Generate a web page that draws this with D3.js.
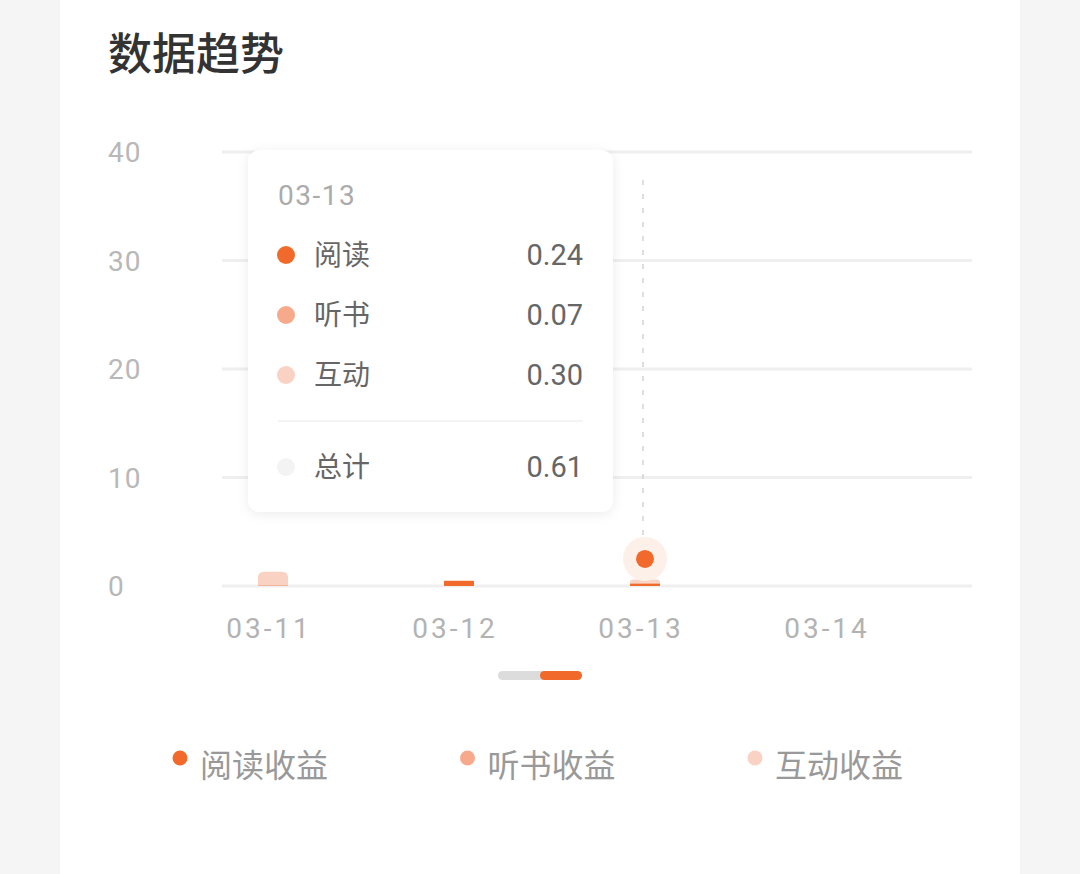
<!DOCTYPE html>
<html>
<head>
<meta charset="utf-8">
<script src="https://cdn.jsdelivr.net/npm/d3@7"></script>
<style>
  html, body { margin: 0; padding: 0; background: #f5f5f5; }
  svg { display: block; }
  text { font-family: Roboto, "Noto Sans CJK SC", sans-serif; }
</style>
</head>
<body>
<div id="chart"></div>
<script>
// data
var days = ["03-11", "03-12", "03-13", "03-14"];
var seriesKeys = ["read", "listen", "interact"];
var seriesNames = ["阅读收益", "听书收益", "互动收益"];
var shortNames = ["阅读", "听书", "互动"];
var readValues = [0.05, 0.45, 0.24, 0];
var listenValues = [0.02, 0.02, 0.07, 0];
var interactValues = [1.25, 0.05, 0.30, 0];
var yTicks = [0, 10, 20, 30, 40];
var activeDay = "03-13";
var pointerValue = 2.5;

var colors = ["#f26a2b", "#f7aa8b", "#fad2c3"];

var W = 1080, H = 874;

var svg = d3.select("#chart").append("svg")
    .attr("width", W)
    .attr("height", H);

var defs = svg.append("defs");
var shadow = defs.append("filter").attr("id", "shadow")
    .attr("x", "-20%").attr("y", "-20%").attr("width", "140%").attr("height", "140%");
shadow.append("feDropShadow")
    .attr("dx", 0).attr("dy", 2).attr("stdDeviation", 6)
    .attr("flood-color", "#000").attr("flood-opacity", 0.08);

// card
svg.append("rect")
    .attr("x", 60).attr("y", -20)
    .attr("width", 960).attr("height", H + 40)
    .attr("rx", 20)
    .attr("fill", "#fff");

svg.append("text")
    .attr("x", 108).attr("y", 70)
    .attr("font-size", 44)
    .attr("font-weight", 500)
    .attr("fill", "#333")
    .text("数据趋势");

var rows = days.map(function(d, i) {
    return { day: d, read: readValues[i], listen: listenValues[i], interact: interactValues[i] };
});

var x = d3.scaleBand().domain(days).range([180, 924]);
var y = d3.scaleLinear().domain([0, 40]).range([586, 152]);
var gridX0 = 222, gridX1 = 972;

// grid
svg.selectAll(".grid")
    .data(yTicks)
    .enter().append("line")
    .attr("x1", gridX0).attr("x2", gridX1)
    .attr("y1", function(d) { return y(d); })
    .attr("y2", function(d) { return y(d); })
    .attr("stroke", "#efefef")
    .attr("stroke-width", 3);

svg.selectAll(".ylab")
    .data(yTicks)
    .enter().append("text")
    .attr("x", 108)
    .attr("y", function(d) { return y(d); })
    .attr("dy", "0.36em")
    .attr("font-size", 28)
    .attr("letter-spacing", 1)
    .attr("fill", "#b8b8b8")
    .text(function(d) { return d; });

svg.selectAll(".xlab")
    .data(days)
    .enter().append("text")
    .attr("x", function(d) { return x(d) + x.bandwidth() / 2 - 4; })
    .attr("y", 628)
    .attr("dy", "0.36em")
    .attr("text-anchor", "middle")
    .attr("font-size", 28)
    .attr("letter-spacing", 3)
    .attr("fill", "#b3b3b3")
    .text(function(d) { return d; });

// stacked bars
var stack = d3.stack().keys(seriesKeys);
var layers = stack(rows);
var barW = 30;

function topRounded(x0, y0, w, h, r) {
    r = Math.min(r, h, w / 2);
    return "M" + x0 + "," + (y0 + h) +
        "V" + (y0 + r) +
        "Q" + x0 + "," + y0 + " " + (x0 + r) + "," + y0 +
        "H" + (x0 + w - r) +
        "Q" + (x0 + w) + "," + y0 + " " + (x0 + w) + "," + (y0 + r) +
        "V" + (y0 + h) + "Z";
}

layers.forEach(function(layer, li) {
    svg.append("g").selectAll("path")
        .data(layer.filter(function(d) { return d[1] - d[0] > 0; }))
        .enter().append("path")
        .attr("fill", colors[li])
        .attr("d", function(d) {
            var cx = x(d.data.day) + x.bandwidth() / 2;
            var y0 = y(d[1]), h = y(d[0]) - y(d[1]);
            var isTop = li === layers.length - 1;
            return topRounded(cx - barW / 2, y0, barW, h, isTop ? 6 : 0);
        });
});

// pointer line and marker
var ax = x(activeDay) + x.bandwidth() / 2;
svg.append("line")
    .attr("x1", ax - 2).attr("x2", ax - 2)
    .attr("y1", 180).attr("y2", y(pointerValue) - 14)
    .attr("stroke", "#c8c8c8")
    .attr("stroke-width", 1.2)
    .attr("stroke-dasharray", "5,9");
svg.append("circle")
    .attr("cx", ax).attr("cy", y(pointerValue))
    .attr("r", 22).attr("fill", "#fdf0e9");
svg.append("circle")
    .attr("cx", ax).attr("cy", y(pointerValue))
    .attr("r", 9).attr("fill", colors[0]);

// scroll indicator
svg.append("rect").attr("x", 498).attr("y", 671).attr("width", 84).attr("height", 9)
    .attr("rx", 4.5).attr("fill", "#dcdcdc");
svg.append("rect").attr("x", 540).attr("y", 671).attr("width", 42).attr("height", 9)
    .attr("rx", 4.5).attr("fill", colors[0]);

// tooltip
var act = rows[days.indexOf(activeDay)];
var actVals = [act.read, act.listen, act.interact];
var tip = svg.append("g").attr("transform", "translate(248,150)");
tip.append("rect")
    .attr("width", 365).attr("height", 362)
    .attr("rx", 12)
    .attr("fill", "#fff")
    .attr("filter", "url(#shadow)");
tip.append("text")
    .attr("x", 30).attr("y", 45)
    .attr("dy", "0.36em")
    .attr("font-size", 28)
    .attr("letter-spacing", 1.5)
    .attr("fill", "#ababab")
    .text(activeDay);

var tipRows = shortNames.map(function(n, i) {
    return { name: n, value: actVals[i], color: colors[i] };
});
var tipRow = tip.selectAll(".trow")
    .data(tipRows)
    .enter().append("g")
    .attr("transform", function(d, i) { return "translate(0," + (105 + i * 60) + ")"; });
tipRow.append("circle").attr("cx", 38).attr("r", 9).attr("fill", function(d) { return d.color; });
tipRow.append("text").attr("x", 66).attr("dy", "0.36em").attr("font-size", 28).attr("fill", "#666")
    .text(function(d) { return d.name; });
tipRow.append("text").attr("x", 335).attr("dy", "0.36em").attr("font-size", 29).attr("fill", "#666")
    .attr("text-anchor", "end")
    .text(function(d) { return d.value.toFixed(2); });

tip.append("line").attr("x1", 30).attr("x2", 335).attr("y1", 271).attr("y2", 271)
    .attr("stroke", "#f0f0f0").attr("stroke-width", 1.5);

var total = d3.sum(actVals);
var totRow = tip.append("g").attr("transform", "translate(0,317)");
totRow.append("circle").attr("cx", 38).attr("r", 9).attr("fill", "#f3f3f3");
totRow.append("text").attr("x", 66).attr("dy", "0.36em").attr("font-size", 28).attr("fill", "#666").text("总计");
totRow.append("text").attr("x", 335).attr("dy", "0.36em").attr("font-size", 29).attr("fill", "#666")
    .attr("text-anchor", "end").text(total.toFixed(2));

// legend
var legend = svg.selectAll(".legend")
    .data(seriesNames)
    .enter().append("g")
    .attr("transform", function(d, i) { return "translate(" + (180 + i * 287.5) + ",758)"; });
legend.append("circle").attr("r", 7.5).attr("fill", function(d, i) { return colors[i]; });
legend.append("text").attr("x", 20).attr("y", 7).attr("dy", "0.36em")
    .attr("font-size", 32).attr("fill", "#999")
    .text(function(d) { return d; });
</script>
</body>
</html>
